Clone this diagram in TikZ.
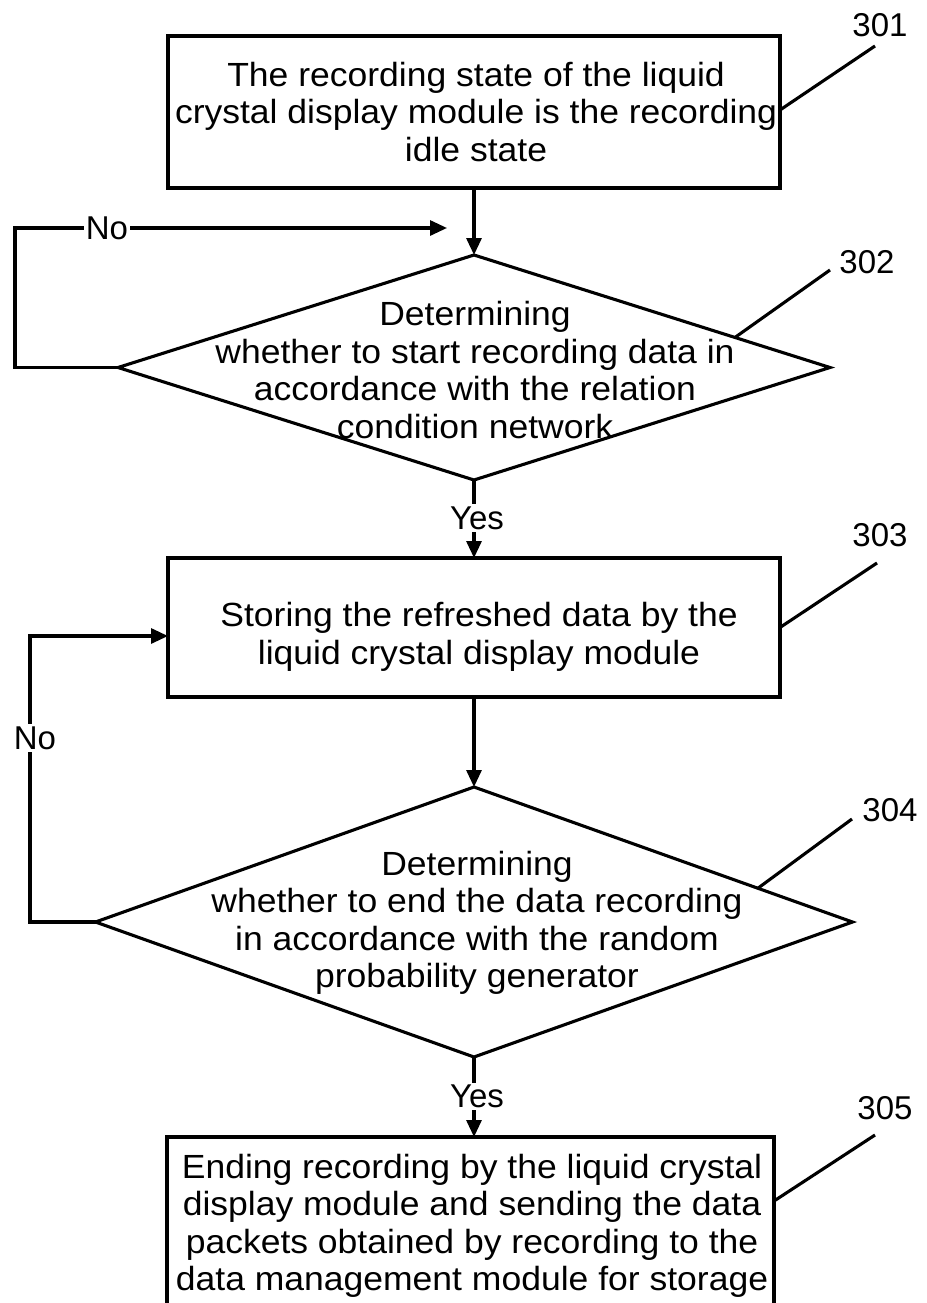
\documentclass[tikz,border=0pt]{standalone}
\usepackage{fontspec}
\setmainfont{Liberation Sans}
\newfontfamily\boxfont[FakeStretch=1.06]{Liberation Sans}
\usetikzlibrary{shapes.geometric,arrows.meta,calc}

\tikzset{
  every node/.style={font=\fontsize{33}{37}\selectfont},
  ln/.style={line width=3.1pt},
  stepbox/.style={ln, draw, rectangle, inner sep=0pt, outer sep=0pt},
  decision/.style={ln, draw, diamond, inner sep=0pt, outer sep=0pt},
  txt/.style={align=center, inner sep=0pt, font=\boxfont\fontsize{33.5}{37.5}\selectfont},
  arr/.style={ln, -{Triangle[length=17pt,width=15pt]}},
  lab/.style={fill=white, inner sep=2pt},
  tag/.style={inner sep=0pt},
}

\begin{document}
\begin{tikzpicture}[x=1pt,y=-1pt]
\useasboundingbox (0,0) rectangle (926,1303);
\clip (0,0) rectangle (926,1303);

% process boxes and decisions
\node[stepbox, minimum width=612pt, minimum height=152pt] (b1) at (474,112) {};
\node[txt] at (476,112) {The recording state of the liquid\\crystal display module is the recording\\idle state};

\node[decision, minimum width=712pt, minimum height=225pt] (d1) at (474,367.5) {};
\node[txt] at (475,370) {Determining\\whether to start recording data in\\accordance with the relation\\condition network};

\node[stepbox, minimum width=612pt, minimum height=139pt] (b3) at (474,627.5) {};
\node[txt] at (479,637) {Storing the refreshed data by the\\liquid crystal display module};

\node[decision, minimum width=757pt, minimum height=270pt] (d4) at (474,922) {};
\node[txt] at (477,923) {Determining\\whether to end the data recording\\in accordance with the random\\probability generator};

\node[stepbox, minimum width=607pt, minimum height=193pt] (b5) at (470.5,1233.5) {};
\node[txt] at (472,1226) {Ending recording by the liquid crystal\\display module and sending the data\\packets obtained by recording to the\\data management module for storage};

% main flow
\draw[arr] (b1.south) -- (d1.north);
\draw[arr] (d1.south) -- (b3.north);
\draw[arr] (b3.south) -- (d4.north);
\draw[arr] (d4.south) -- (d4.south |- b5.north);
\node[lab] (y1) at (477,518) {Yes};
\node[lab] (y2) at (477,1096) {Yes};

% loop back from the first decision
\coordinate (c1) at (15,228);
\coordinate (e1) at (447,228);
\draw[arr] (d1.west) -| (c1) -- (e1);
\node[lab] (n1) at (107,228) {No};

% loop back from the second decision
\coordinate (c2) at (30,636);
\draw[arr] (d4.west) -| (c2) -- (c2 -| b3.west);
\node[lab] (n2) at (35,738) {No};

% reference numerals with leader lines
\node[tag] (l301) at (880,25) {301};
\node[tag] (l302) at (867,262) {302};
\node[tag] (l303) at (880,535) {303};
\node[tag] (l304) at (890,810) {304};
\node[tag] (l305) at (885,1108) {305};
\coordinate (e301) at (875,46);
\coordinate (e302) at (830,270);
\coordinate (e303) at (877,563);
\coordinate (e304) at (852,819);
\coordinate (e305) at (875,1135);
\draw[ln] (b1.east) ++(0,-2) -- (e301);
\draw[ln] ($(d1.north)!0.733!(d1.east)$) -- (e302);
\draw[ln] (b3.east) -- (e303);
\draw[ln] ($(d4.north)!0.75!(d4.east)$) -- (e304);
\draw[ln] (b5.north east) ++(0,64) -- (e305);
\end{tikzpicture}
\end{document}
